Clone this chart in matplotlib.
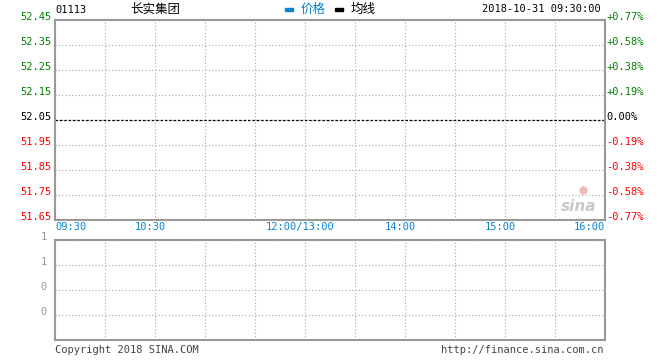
import numpy as np
import matplotlib
matplotlib.use("Agg")
import matplotlib.pyplot as plt

# ---- data ----
code = "01113"
name = "长实集团"
stamp = "2018-10-31 09:30:00"
prev_close = 52.05
price_ticks = [52.45, 52.35, 52.25, 52.15, 52.05, 51.95, 51.85, 51.75, 51.65]
pct_labels = ["+0.77%", "+0.58%", "+0.38%", "+0.19%", "0.00%",
              "-0.19%", "-0.38%", "-0.58%", "-0.77%"]
time_pos = [0, 60, 150, 210, 270, 330]          # minutes from open
time_labels = ["09:30", "10:30", "12:00/13:00", "14:00", "15:00", "16:00"]
vol_ticks = [1.0, 0.75, 0.5, 0.25]
vol_labels = ["1", "1", "0", "0"]
price = []      # no trades yet
minutes = []

GREEN = "#008000"
RED = "#ff0000"
BLUE = "#0a84d0"
GRID = "#a8a8a8"
FRAME = "#999999"
MONO = "DejaVu Sans Mono"
CJK = ["Noto Sans CJK SC", "DejaVu Sans"]

W, H = 660, 360
fig = plt.figure(figsize=(6.6, 3.6), dpi=100)

def box(l, t, r, b):
    return [l / W, 1 - b / H, (r - l) / W, (b - t) / H]

ax = fig.add_axes(box(55, 20, 605, 220))
axv = fig.add_axes(box(55, 240, 605, 340))

for a in (ax, axv):
    a.set_xlim(0, 330)
    a.set_xticks(np.arange(0, 331, 30))
    a.tick_params(length=0, labelbottom=False, labelleft=False)
    a.grid(True, color=GRID, linestyle=(0, (1, 2)), linewidth=0.8)
    for s in a.spines.values():
        s.set_color(FRAME)
        s.set_linewidth(1.5)

# main price panel
ax.set_ylim(min(price_ticks), max(price_ticks))
ax.set_yticks(price_ticks)
ax.plot(minutes, price, color=BLUE)
ax.axhline(prev_close, color="black", linestyle=(0, (2, 1.5)), linewidth=0.9)

for p, lab in zip(price_ticks, pct_labels):
    if p > prev_close + 1e-9:
        c = GREEN
    elif p < prev_close - 1e-9:
        c = RED
    else:
        c = "black"
    ax.text(-2, p, f"{p:.2f}", color=c, fontsize=7.5, family=MONO,
            ha="right", va="baseline", transform=ax.transData)
    ax.text(331, p, lab, color=c, fontsize=7.5, family=MONO,
            ha="left", va="baseline", transform=ax.transData)

for t, lab in zip(time_pos, time_labels):
    ha = "left" if t == 0 else ("right" if t == 330 else "center")
    x = t if ha != "center" else t - 3
    ax.text(x, -0.035, lab, color=BLUE, fontsize=7.5, family=MONO,
            ha=ha, va="center", transform=ax.get_xaxis_transform())

# sina watermark
ax.text(0.985, 0.07, "sina", color="#c8c8c8", fontsize=11, style="italic",
        fontweight="bold", ha="right", va="center", transform=ax.transAxes)
ax.plot([0.96], [0.15], "o", color="#f0b8b8", markersize=5,
        transform=ax.transAxes)

# volume panel
axv.set_ylim(0, 1)
axv.set_yticks(vol_ticks)
for v, lab in zip(vol_ticks, vol_labels):
    axv.text(-5, v, lab, color="#999999", fontsize=7.5, family=MONO,
             ha="right", va="baseline", transform=axv.transData)

# header
fig.text(55 / W, 1 - 10 / H, code, fontsize=7.5, family=MONO, va="center")
fig.text(130 / W, 1 - 9 / H, name, fontsize=9, family=CJK, va="center")
fig.patches.append(plt.Rectangle((285 / W, 1 - 11 / H), 8 / W, 3 / H,
                                 color=BLUE, transform=fig.transFigure))
fig.text(301 / W, 1 - 9 / H, "价格", fontsize=9, family=CJK, color=BLUE, va="center")
fig.patches.append(plt.Rectangle((335 / W, 1 - 11 / H), 8 / W, 3 / H,
                                 color="black", transform=fig.transFigure))
fig.text(351 / W, 1 - 9 / H, "均线", fontsize=9, family=CJK, va="center")
fig.text(601 / W, 1 - 9 / H, stamp, fontsize=7.5, family=MONO, ha="right", va="center")

# footer
fig.text(55 / W, 1 - 350 / H, "Copyright 2018 SINA.COM", fontsize=7.5,
         family=MONO, color="#444444", va="center")
fig.text(604 / W, 1 - 350 / H, "http://finance.sina.com.cn", fontsize=7.5,
         family=MONO, color="#444444", ha="right", va="center")

fig.savefig("out.png", dpi=100, facecolor="white")
